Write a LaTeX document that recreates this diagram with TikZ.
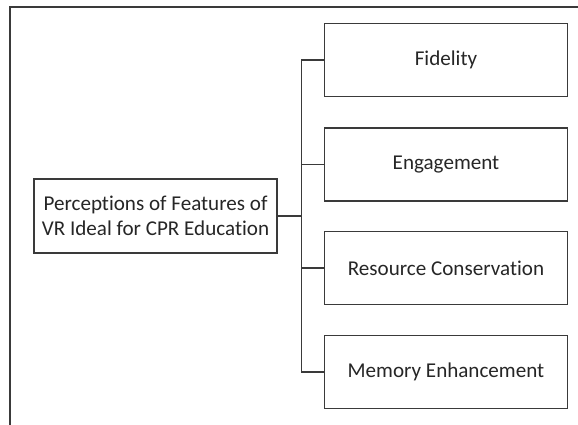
\documentclass[tikz,border=0pt]{standalone}
\usepackage{fontspec}
\setmainfont[Ligatures={NoCommon}]{Carlito}
\definecolor{linegray}{HTML}{3A3A3A}
\definecolor{textgray}{HTML}{262626}
\tikzset{
  featbox/.style={draw=linegray, line width=1.1pt, minimum width=6.075cm, minimum height=1.825cm,
    inner sep=2pt, align=center, text=textgray, font=\fontsize{15}{18}\selectfont},
  link/.style={draw=linegray, line width=1pt}
}
\begin{document}
\begin{tikzpicture}
    \useasboundingbox (0,0) rectangle (14.45,10.625);
    % frame
    \draw[linegray, line width=1.4pt] (0.24,0) -- (0.24,10.45) -- (14.45,10.45);
    \node[featbox, minimum height=1.85cm] (root) at (3.8875,5.225) {Perceptions of Features of\\VR Ideal for CPR Education};
    \node[featbox] (fid) at (11.15,9.125) {Fidelity};
    \node[featbox] (eng) at (11.15,6.5125) {Engagement};
    \node[featbox] (res) at (11.15,3.925) {Resource Conservation};
    \node[featbox] (mem) at (11.15,1.325) {Memory Enhancement};
    \coordinate (jn) at (7.5375,5.225);
    \draw[link] (root.east) -- (jn);
    \foreach \n in {fid,eng,res,mem} \draw[link] (jn) |- (\n.west);
\end{tikzpicture}
\end{document}
